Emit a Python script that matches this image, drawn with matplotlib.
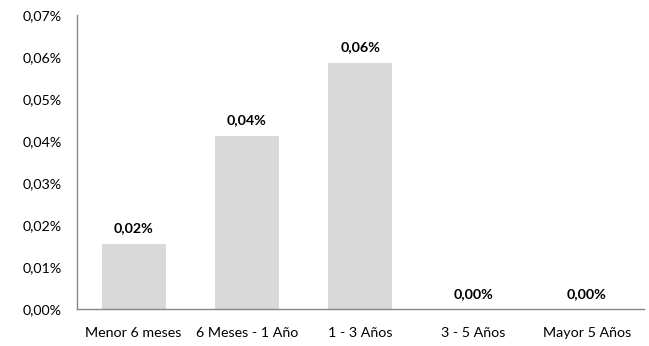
import matplotlib.pyplot as plt
from matplotlib.ticker import FuncFormatter

plt.rcParams['font.family'] = ['Lato', 'DejaVu Sans']

categories = ['Menor 6 meses', '6 Meses - 1 Año', '1 - 3 Años', '3 - 5 Años', 'Mayor 5 Años']
values = [0.0155, 0.0413, 0.0586, 0.0, 0.0]  # percent
y_ticks = [0.00, 0.01, 0.02, 0.03, 0.04, 0.05, 0.06, 0.07]


def pct(v):
    return f'{v:.2f}'.replace('.', ',') + '%'


fig = plt.figure(figsize=(6.49, 3.46), dpi=100)
ax = fig.add_axes([0.1186, 0.106, 0.873, 0.8506])

x = range(len(categories))
bars = ax.bar(x, values, width=0.565, color='#d9d9d9')

for b, v in zip(bars, values):
    ax.annotate(pct(v), (b.get_x() + b.get_width() / 2, v),
                xytext=(0, 7), textcoords='offset points',
                ha='center', va='bottom', fontsize=10.3, fontweight='bold', color='black')

ax.set_xlim(-0.5, len(categories) - 0.5)
ax.set_ylim(0, 0.07)
ax.set_yticks(y_ticks)
ax.yaxis.set_major_formatter(FuncFormatter(lambda v, _: pct(v)))
ax.set_xticks(list(x))
ax.set_xticklabels(categories)
ax.tick_params(axis='both', length=0, labelsize=10.3, colors='black')
ax.tick_params(axis='x', pad=13)
ax.tick_params(axis='y', pad=11)

for s in ['top', 'right']:
    ax.spines[s].set_visible(False)
for s in ['left', 'bottom']:
    ax.spines[s].set_color('#868686')
    ax.spines[s].set_linewidth(1.0)

fig.savefig('out.png', dpi=100)
